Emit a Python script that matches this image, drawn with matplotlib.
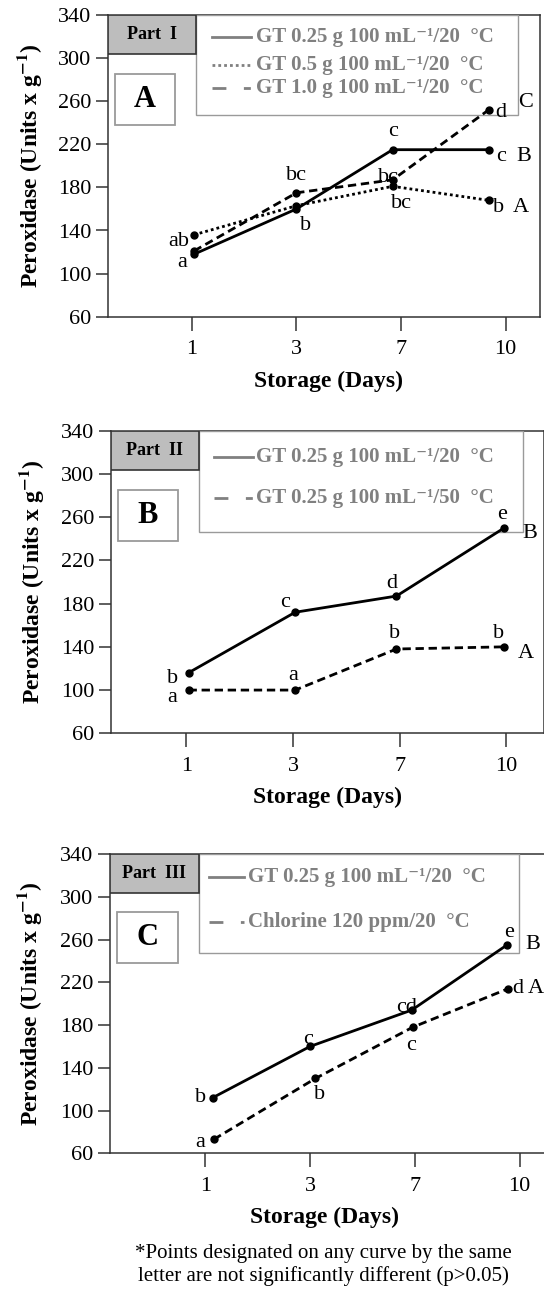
#!/usr/bin/env python3

'''
Peroxidase activity during storage for the three green tea (GT) trials
'''

import matplotlib
matplotlib.use('Agg')
import matplotlib.pyplot as plt
from matplotlib.patches import Rectangle

plt.rcParams['font.family'] = ['Liberation Serif', 'DejaVu Serif']
plt.rcParams['mathtext.fontset'] = 'stix'

days = ['1', '3', '7', '10']
yticks = [60, 100, 140, 180, 220, 260, 300, 340]

# Part I : GT concentration
p1_names = ['GT 0.25 g 100 mL⁻¹/20  °C',
            'GT 0.5 g 100 mL⁻¹/20  °C',
            'GT 1.0 g 100 mL⁻¹/20  °C']
p1_xpos = [0.02, 1.0, 1.92, 2.84]
p1_gt025 = [118, 160, 215, 215]
p1_gt05 = [136, 163, 181, 168]
p1_gt10 = [121, 175, 187, 252]
p1_gt025_letters = ['a', 'b', 'c', 'c']
p1_gt05_letters = ['ab', '', 'bc', 'b']
p1_gt10_letters = ['', 'bc', 'bc', 'd']
p1_groups = ['B', 'A', 'C']

# Part II : wash temperature
p2_names = ['GT 0.25 g 100 mL⁻¹/20  °C',
            'GT 0.25 g 100 mL⁻¹/50  °C']
p2_xpos = [0.02, 1.02, 1.97, 2.98]
p2_gt20 = [116, 172, 187, 250]
p2_gt50 = [100, 100, 138, 140]
p2_gt20_letters = ['b', 'c', 'd', 'e']
p2_gt50_letters = ['a', 'a', 'b', 'b']
p2_groups = ['B', 'A']

# Part III : GT against chlorine
p3_names = ['GT 0.25 g 100 mL⁻¹/20  °C',
            'Chlorine 120 ppm/20  °C']
p3_xpos_gt = [0.07, 1.0, 1.97, 2.88]
p3_xpos_cl = [0.08, 1.05, 1.98, 2.89]
p3_gt = [112, 160, 194, 255]
p3_cl = [73, 130, 178, 214]
p3_gt_letters = ['b', 'c', 'cd', 'e']
p3_cl_letters = ['a', 'b', 'c', 'd']
p3_groups = ['B', 'A']

note = ('*Points designated on any curve by the same\n'
        'letter are not significantly different (p>0.05)')

W, H = 544, 1291
GREY = '#808080'
SOLID = (None, None)
DOTTED = (1, 1.1)
DASHED = (3, 1.7)


def px_axes(fig, left, top, right, bottom):
    '''
    add an axes given its pixel box (origin at top left)
    '''
    return fig.add_axes([left / W, 1 - bottom / H,
                         (right - left) / W, (bottom - top) / H])


def setup_axes(ax, xlim, xlabel_x):
    ax.set_xlim(*xlim)
    ax.set_ylim(60, 340)
    ax.set_yticks(yticks)
    ax.set_xticks(range(len(days)))
    ax.set_xticklabels(days)
    ax.tick_params(axis='y', direction='out', length=8.5, width=1.1,
                   pad=3.5, labelsize=16, color='#333333')
    ax.tick_params(axis='x', direction='out', length=10, width=1.1,
                   pad=7, labelsize=16, color='#333333')
    for s in ax.spines.values():
        s.set_color('#333333')
        s.set_linewidth(1.1)
    ax.set_ylabel('Peroxidase (Units x g$^{\\mathbf{-1}}$)',
                  fontsize=17, fontweight='bold')
    ax.yaxis.set_label_coords(-0.15, 0.5)
    ax.set_xlabel('Storage (Days)', fontsize=17, fontweight='bold')
    ax.xaxis.set_label_coords(xlabel_x, -0.178)


def draw_boxes(ax, part, tag, names, styles, leg_right, leg_bottom,
               rows, sample_x, text_x):
    # legend frame
    ax.add_patch(Rectangle((0.203, leg_bottom), leg_right - 0.203,
                           1 - leg_bottom, transform=ax.transAxes,
                           facecolor='white', edgecolor='#9a9a9a',
                           lw=1.0, zorder=4))
    # grey "Part" header
    ax.add_patch(Rectangle((0, 0.87), 0.203, 0.13, transform=ax.transAxes,
                           facecolor='#bdbdbd', edgecolor='#333333',
                           lw=1.2, zorder=5))
    ax.text(0.1015, 0.935, part, transform=ax.transAxes, ha='center',
            va='center', fontsize=13, fontweight='bold', zorder=6)
    # panel letter
    ax.add_patch(Rectangle((0.016, 0.635), 0.139, 0.17,
                           transform=ax.transAxes, facecolor='white',
                           edgecolor='#9a9a9a', lw=1.3, zorder=5))
    ax.text(0.0855, 0.72, tag, transform=ax.transAxes, ha='center',
            va='center', fontsize=22, fontweight='bold', zorder=6)
    for name, st, y in zip(names, styles, rows):
        if st == 'legdash':
            ax.plot(sample_x, [y, y], color=GREY, lw=2,
                    dashes=(5, 6.3, 2.5, 10), transform=ax.transAxes,
                    zorder=6, clip_on=False)
        else:
            ln, = ax.plot(sample_x, [y, y], color=GREY, lw=2,
                          transform=ax.transAxes, zorder=6, clip_on=False)
            if st is not SOLID:
                ln.set_dashes(st)
        ax.text(text_x, y, name, transform=ax.transAxes, ha='left',
                va='center', fontsize=15, fontweight='bold',
                color=GREY, zorder=6)


def draw_series(ax, xpos, values, style, letters, offsets, group, goff):
    # data sit above the legend frame, as in the original figure
    ln, = ax.plot(xpos, values, color='black', lw=2, marker='o',
                  markersize=5, zorder=7, clip_on=False)
    if style is not SOLID:
        ln.set_dashes(style)
    for x, v, t, off in zip(xpos, values, letters, offsets):
        if t:
            ax.annotate(t, (x, v), xytext=off, textcoords='offset points',
                        ha='center', va='center', fontsize=16, zorder=8)
    ax.annotate(group, (xpos[-1], values[-1]), xytext=goff,
                textcoords='offset points', ha='center', va='center',
                fontsize=16, zorder=8)


def pt(dx, dy):
    # pixel offsets to points
    return (dx * 0.72, dy * 0.72)


def main():
    fig = plt.figure(figsize=(W / 100, H / 100), dpi=100)

    # Part I
    ax = px_axes(fig, 108.3, 15, 540, 316.7)
    setup_axes(ax, (-0.80, 3.33), 0.51)
    draw_series(ax, p1_xpos, p1_gt025, SOLID, p1_gt025_letters,
                [pt(-12, -8), pt(9, -17), pt(0, 18), pt(12, -7)],
                p1_groups[0], pt(35, -7))
    draw_series(ax, p1_xpos, p1_gt05, DOTTED, p1_gt05_letters,
                [pt(-15, -7), None, pt(9, -17), pt(10, -7)],
                p1_groups[1], pt(32, -7))
    draw_series(ax, p1_xpos, p1_gt10, DASHED, p1_gt10_letters,
                [None, pt(0, 17), pt(-4, 2), pt(12, -3)],
                p1_groups[2], pt(37, 7))
    draw_boxes(ax, 'Part  I', 'A', p1_names, [SOLID, DOTTED, 'legdash'],
               0.949, 0.669, [0.928, 0.834, 0.757], [0.241, 0.331], 0.342)

    # Part II
    ax = px_axes(fig, 110.7, 430.7, 543.6, 733.3)
    setup_axes(ax, (-0.71, 3.35), 0.5)
    draw_series(ax, p2_xpos, p2_gt20, SOLID, p2_gt20_letters,
                [pt(-16, -6), pt(-10, 10), pt(-5, 13), pt(-2, 13)],
                p2_groups[0], pt(26, -6))
    draw_series(ax, p2_xpos, p2_gt50, DASHED, p2_gt50_letters,
                [pt(-16, -7), pt(-2, 15), pt(-2, 16), pt(-6, 13)],
                p2_groups[1], pt(22, -7))
    draw_boxes(ax, 'Part  II', 'B', p2_names, [SOLID, 'legdash'],
               0.952, 0.665, [0.914, 0.777], [0.239, 0.328], 0.336)

    # Part III
    ax = px_axes(fig, 110, 854, 548, 1153.3)
    setup_axes(ax, (-0.91, 3.27), 0.49)
    draw_series(ax, p3_xpos_gt, p3_gt, SOLID, p3_gt_letters,
                [pt(-12, 0), pt(-2, 7), pt(-5, 3), pt(2, 12)],
                p3_groups[0], pt(26, 0))
    draw_series(ax, p3_xpos_cl, p3_cl, DASHED, p3_cl_letters,
                [pt(-14, -3), pt(4, -16), pt(-2, -18), pt(10, 0)],
                p3_groups[1], pt(28, 0))
    draw_boxes(ax, 'Part  III', 'C', p3_names, [SOLID, 'legdash'],
               0.934, 0.669, [0.924, 0.774], [0.226, 0.306], 0.316)

    fig.text(323 / W, 1 - 1265 / H, note, ha='center', va='center',
             fontsize=15, linespacing=1.15)

    fig.savefig('out.png', dpi=100)


if __name__ == '__main__':
    main()
